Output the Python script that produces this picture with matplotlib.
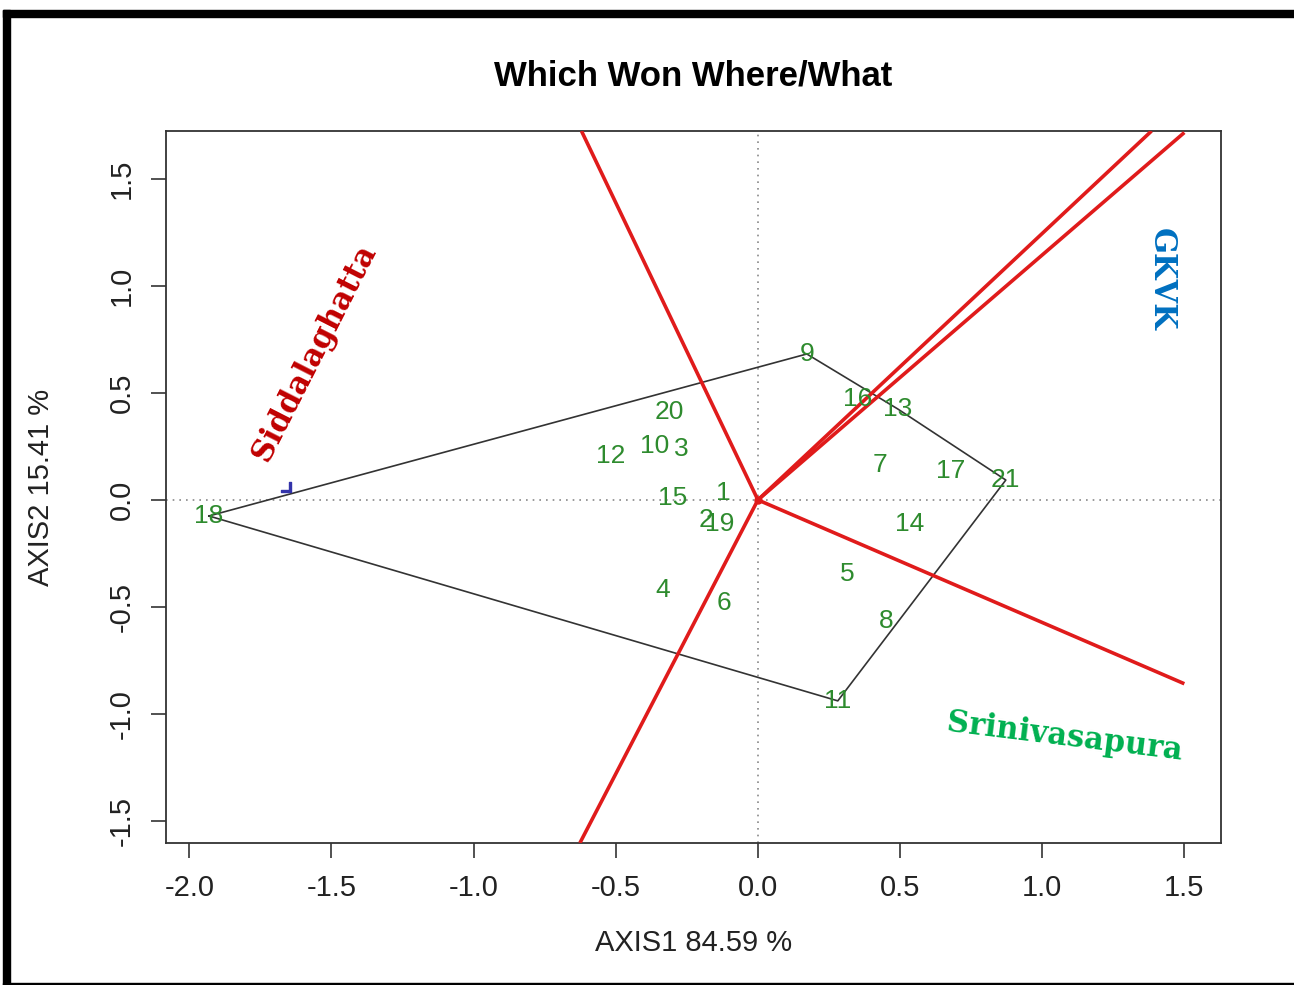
import numpy as np
import matplotlib
matplotlib.use("Agg")
from matplotlib import pyplot as plt
from matplotlib.patches import Rectangle

# genotype scores
gen_labels = ["1", "2", "3", "4", "5", "6", "7", "8", "9", "10", "11",
              "12", "13", "14", "15", "16", "17", "18", "19", "20", "21"]
gen_x = [-0.120, -0.183, -0.271, -0.334, 0.313, -0.120, 0.429, 0.450, 0.172, -0.362, 0.281,
         -0.517, 0.492, 0.535, -0.299, 0.352, 0.679, -1.931, -0.134, -0.313, 0.872]
gen_y = [0.033, -0.093, 0.238, -0.421, -0.346, -0.481, 0.164, -0.565, 0.682, 0.252, -0.939,
         0.206, 0.425, -0.112, 0.009, 0.472, 0.136, -0.075, -0.112, 0.411, 0.093]

# environment labels (hand placed annotations)
env_names = ["Siddalaghatta", "GKVK", "Srinivasapura"]
env_x = [-1.56, 1.42, 1.08]
env_y = [0.69, 1.03, -1.11]
env_rot = [63, -90, -7]
env_colors = ["#c00000", "#0070c0", "#00b050"]

# small environment marker partly hidden in the original
env_mark_x = [-1.66]
env_mark_y = [0.06]

xlim = (-2.082, 1.629)
ylim = (-1.603, 1.724)
xticks = [-2.0, -1.5, -1.0, -0.5, 0.0, 0.5, 1.0, 1.5]
yticks = [-1.5, -1.0, -0.5, 0.0, 0.5, 1.0, 1.5]


def convex_hull(pts):
    pts = sorted(set(pts))
    def cross(o, a, b):
        return (a[0] - o[0]) * (b[1] - o[1]) - (a[1] - o[1]) * (b[0] - o[0])
    lower, upper = [], []
    for p in pts:
        while len(lower) >= 2 and cross(lower[-2], lower[-1], p) <= 0:
            lower.pop()
        lower.append(p)
    for p in reversed(pts):
        while len(upper) >= 2 and cross(upper[-2], upper[-1], p) <= 0:
            upper.pop()
        upper.append(p)
    return lower[:-1] + upper[:-1]


def ray_end(d, box):
    # distance along unit direction d until it leaves the box
    x0, x1, y0, y1 = box
    ts = []
    if d[0] > 0:
        ts.append(x1 / d[0])
    elif d[0] < 0:
        ts.append(x0 / d[0])
    if d[1] > 0:
        ts.append(y1 / d[1])
    elif d[1] < 0:
        ts.append(y0 / d[1])
    return d * min(ts)


plt.rcParams["font.family"] = ["Liberation Sans", "DejaVu Sans"]
fig = plt.figure(figsize=(12.94, 9.85), dpi=100)
ax = fig.add_axes([0.1283, 0.1442, 0.8153, 0.7228])

# reference lines through the origin
ax.axhline(0, color="#888888", linestyle=(0, (1, 3)), linewidth=1.2, zorder=1)
ax.axvline(0, color="#888888", linestyle=(0, (1, 3)), linewidth=1.2, zorder=1)

# polygon around the outermost genotypes
hull = convex_hull(list(zip(gen_x, gen_y)))
hx = [p[0] for p in hull] + [hull[0][0]]
hy = [p[1] for p in hull] + [hull[0][1]]
ax.plot(hx, hy, color="#333333", linewidth=1.2, zorder=2)

# rays perpendicular to each polygon side
for i in range(len(hull)):
    a = np.array(hull[i])
    b = np.array(hull[(i + 1) % len(hull)])
    e = b - a
    foot = a - e * np.dot(a, e) / np.dot(e, e)
    d = foot / np.linalg.norm(foot)
    end = ray_end(d, (xlim[0], 1.5, ylim[0], ylim[1]))
    ax.plot([0, end[0]], [0, end[1]], color="#e01b1b", linewidth=2.6,
             solid_capstyle="butt", zorder=3)
ax.plot([0], [0], "o", color="#e01b1b", markersize=5, zorder=4)

for lab, x, y in zip(gen_labels, gen_x, gen_y):
    ax.text(x, y, lab, color="#2e8b2e", fontsize=19, ha="center", va="center",
            zorder=5)

for name, x, y, r, c in zip(env_names, env_x, env_y, env_rot, env_colors):
    ax.text(x, y, name, color=c, fontsize=22, fontweight="bold", rotation=r,
            rotation_mode="anchor", ha="center", va="center",
            family="DejaVu Serif", zorder=6)
ax.plot(env_mark_x, env_mark_y, marker=r"$\lrcorner$", color="#3333aa",
        markersize=7, linestyle="none", zorder=5)

ax.set_xlim(*xlim)
ax.set_ylim(*ylim)
ax.set_xticks(xticks)
ax.set_yticks(yticks)
ax.set_xticklabels(["%.1f" % v if v >= 0 else "-%.1f" % -v for v in xticks])
ax.set_yticklabels(["%.1f" % v if v >= 0 else "-%.1f" % -v for v in yticks],
                   rotation=90, va="center")
ax.tick_params(direction="out", length=11, width=1.2, labelsize=21, pad=11,
               colors="#333333", labelcolor="#222222")
for s in ax.spines.values():
    s.set_color("#333333")
    s.set_linewidth(1.3)

ax.set_xlabel("AXIS1 84.59 %", fontsize=21, labelpad=20, color="#222222")
ax.set_ylabel("AXIS2 15.41 %", fontsize=21, labelpad=38, color="#222222")
fig.text(0.5355, 0.923, "Which Won Where/What", fontsize=25, fontweight="bold",
         ha="center", va="center")

# black frame of the original figure
fig.patches.append(Rectangle((0.0023, 0.9827), 0.9977, 0.0071, transform=fig.transFigure,
                             color="black", zorder=10))
fig.patches.append(Rectangle((0.0023, 0.0), 0.0054, 0.99, transform=fig.transFigure,
                             color="black", zorder=10))
fig.patches.append(Rectangle((0.0023, 0.0), 0.9977, 0.0025, transform=fig.transFigure,
                             color="black", zorder=10))

fig.savefig("out.png", dpi=100, facecolor="white")
